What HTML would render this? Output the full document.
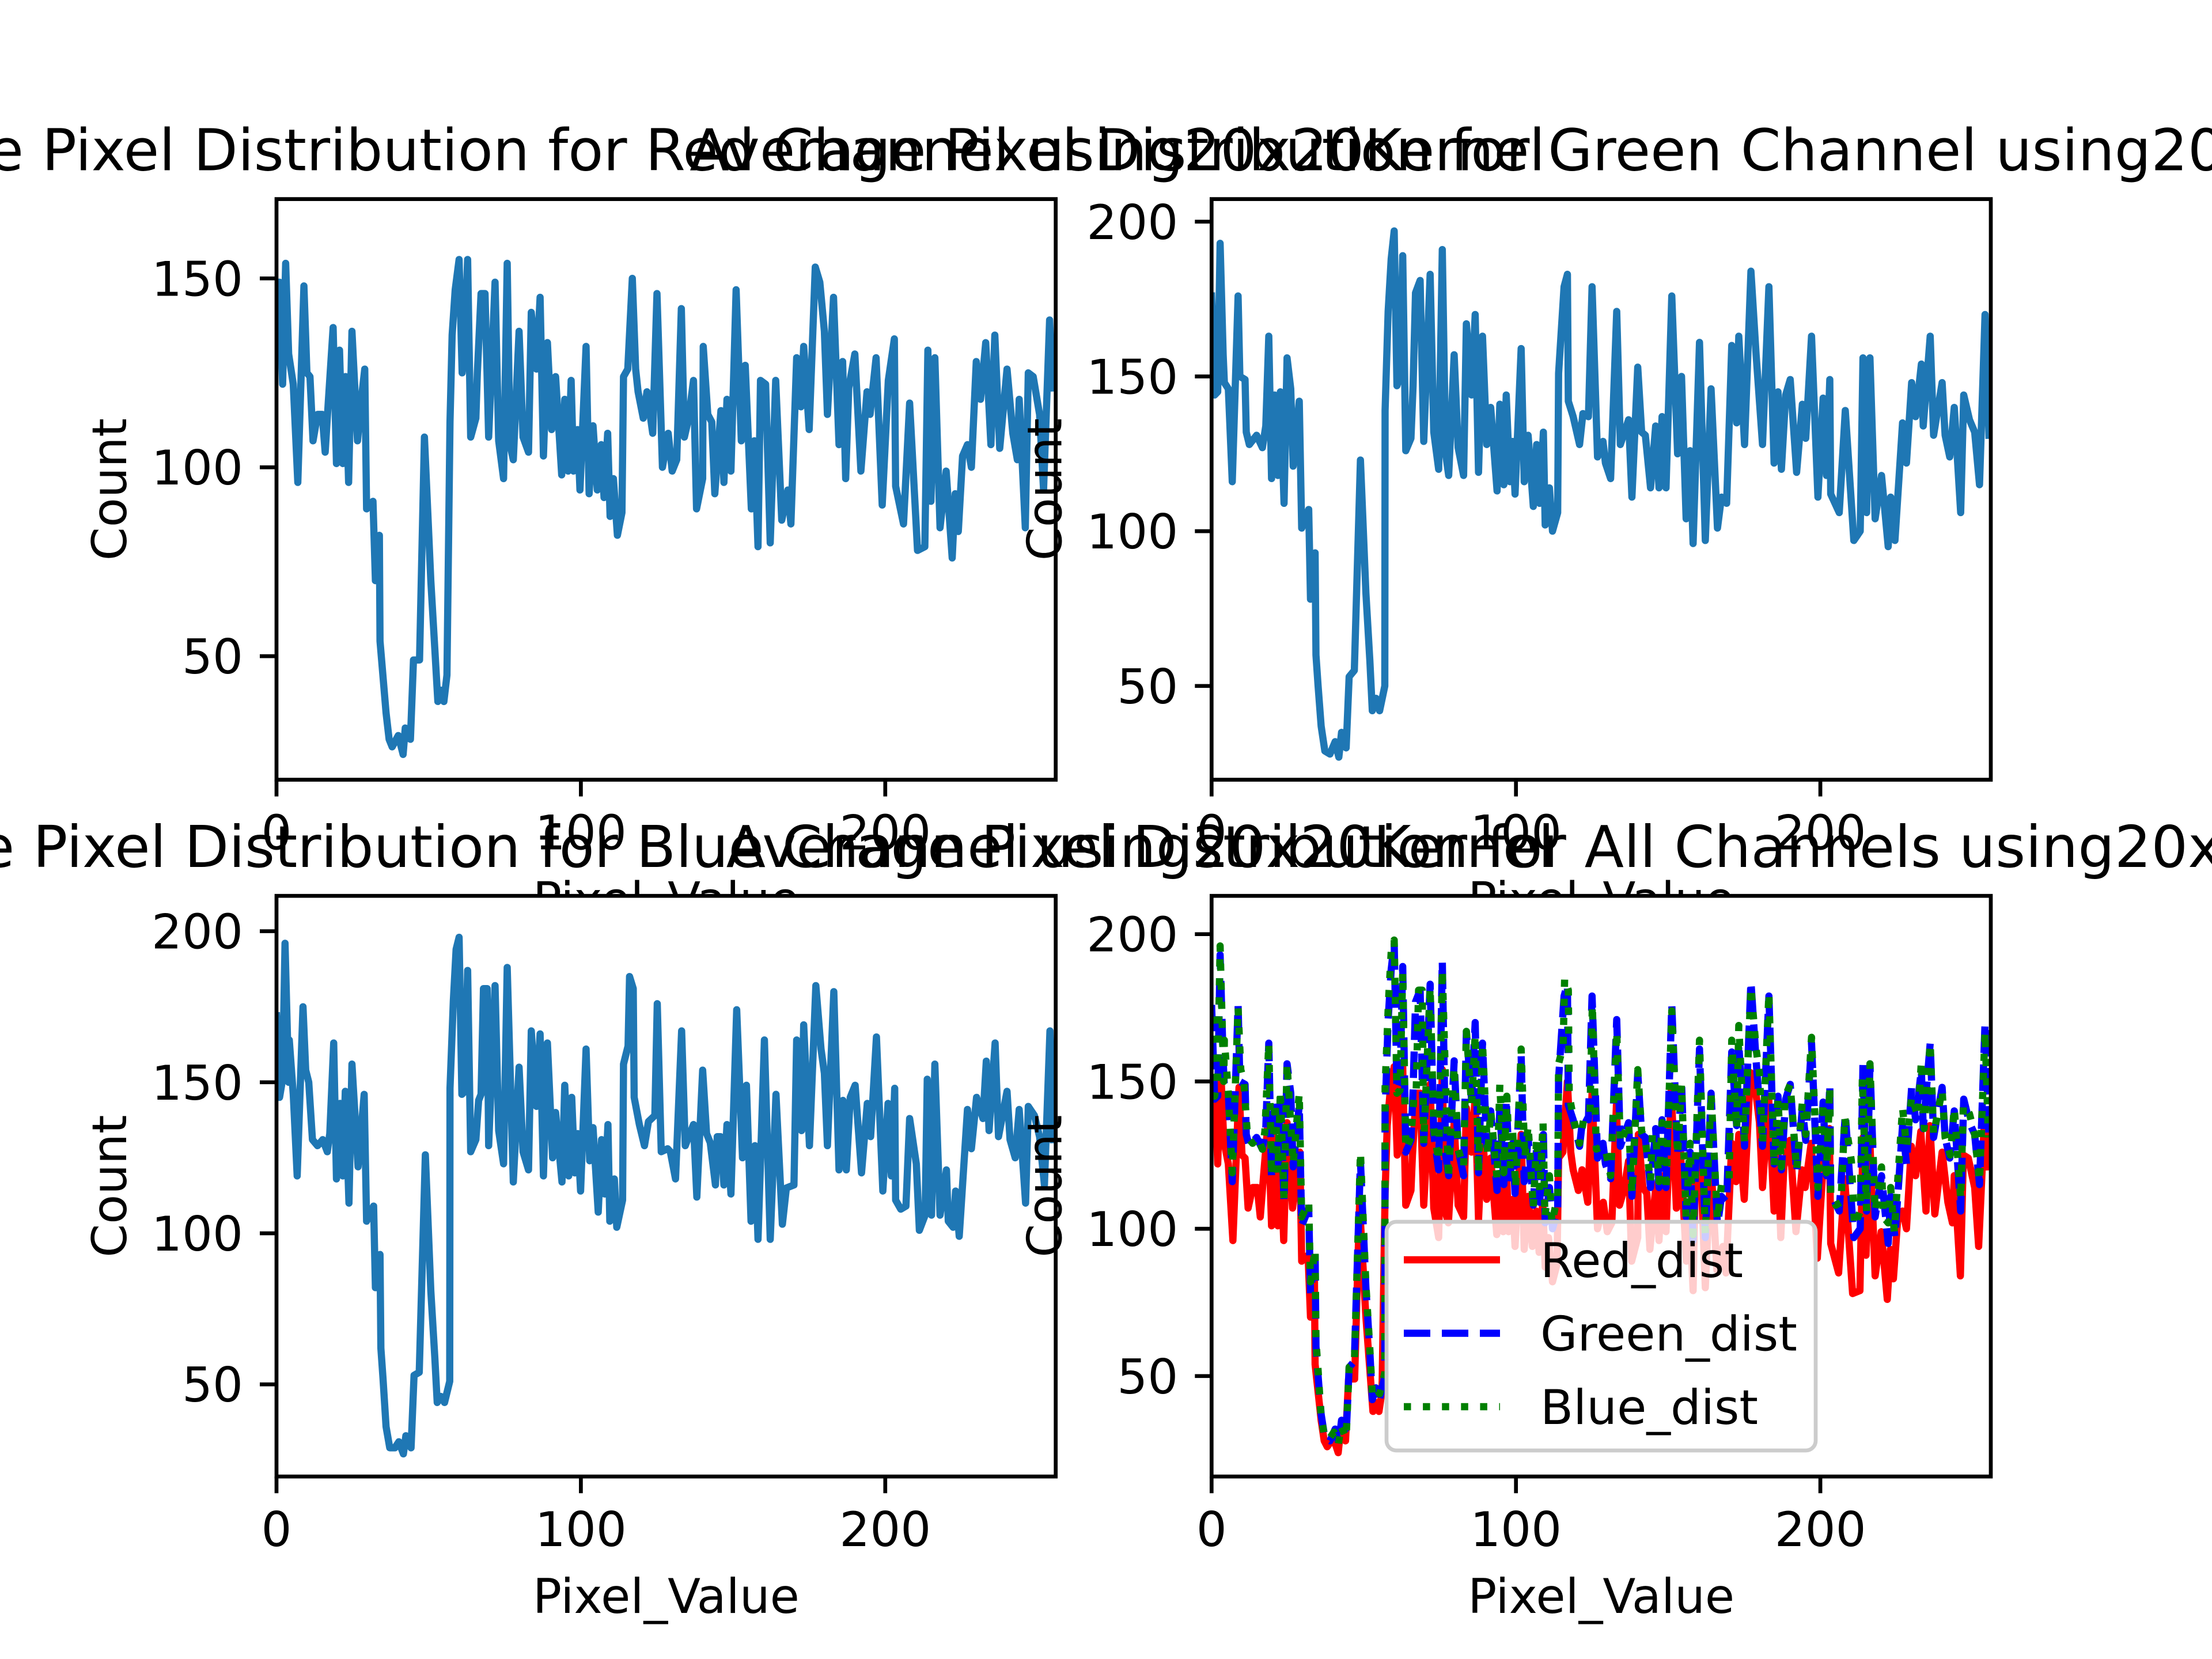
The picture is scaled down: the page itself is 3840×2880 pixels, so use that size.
<!DOCTYPE html>
<html><head><meta charset="utf-8"><style>
html,body{margin:0;padding:0;background:#fff}
svg{display:block;font-family:"DejaVu Sans","Liberation Sans",sans-serif}
</style></head><body>
<svg id="fig" width="3840" height="2880" viewBox="0 0 3840 2880" xmlns="http://www.w3.org/2000/svg">
<rect x="0" y="0" width="3840" height="2880" fill="#fff"/>
<defs>
<clipPath id="c1"><rect x="480" y="345.6" width="1352.7" height="1008"/></clipPath>
<clipPath id="c2"><rect x="2103.3" y="345.6" width="1352.7" height="1008"/></clipPath>
<clipPath id="c3"><rect x="480" y="1555.2" width="1352.7" height="1008"/></clipPath>
<clipPath id="c4"><rect x="2103.3" y="1555.2" width="1352.7" height="1008"/></clipPath>
</defs>
</svg>
<script>
// ---- data ----
const redX = [0,1,2,3,4,5.5,7,9,10,11,12,13.5,15,16,17,18.6,19.7,20.7,21.8,22.7,23.7,24.8,26.6,28,29,29.6,31.7,32.5,33.8,34,36,37,38,40,41.6,42.3,44,45,47,48.6,50.7,52,53,54,55,56,57,57.7,58.7,60,61,61.7,62.8,63.8,65.5,66,67.2,68.5,69.7,71.8,73,74.6,75.8,76.7,77.8,79.7,81,82.8,83.7,85.4,86.6,87.7,89,90.4,91.7,93.7,94.7,95.8,96.8,97.6,98.9,99.7,101.7,102.7,104,105.4,106.7,107.6,108.8,109.6,110.7,112,113.5,114,115.4,116.9,118,118.8,120.5,121.7,123.6,125,126.8,128.7,130,131.5,133,134,135.4,137,138,140,140.2,141.7,143,144,146,147,148,149.3,151,152.7,154,156,157,158.2,159,160.7,162.2,164,166,168,169,170.9,172.3,173.2,175,177,178.5,180,181,183,184.8,186,187,188,190,192,194,195,197,199,201,203,203.4,206,208,210.6,213,214,215,216.3,218,220,222,223,224,225.4,227,228.3,229.9,231.3,233,234.7,236,237.6,240,241.9,243.4,244,246,247,248.6,250.7,252,254,255];
const redY = [149,149,122,154,130,122,96,148,125,124,107,114,114,104,117,137,101,131,101,124,96,136,107,119,126,89,91,70,82,54,35,28,26,29,24,31,28,49,49,108,70,52,38,41,38,45,112,135,147,155,125,131,155,108,113,125,146,146,108,149,107,97,154,106,102,136,108,104,141,126,145,103,133,110,124,98,118,99,123,99,110,94,132,93,111,94,106,92,109,87,97,82,88,124,126,150,126,120,113,120,109,146,100,109,99,102,142,108,113,123,89,97,132,114,112,93,115,96,118,99,147,107,127,89,107,79,123,122,80,123,86,94,85,129,116,132,110,153,149,136,114,145,106,128,97,121,130,99,120,114,129,90,123,134,95,85,117,78,79,131,91,129,84,99,76,93,83,103,106,100,128,118,133,106,135,105,126,109,102,118,84,125,124,114,94,139,121];
const greenX = [0,1,2,2.8,3.8,4.2,5.5,6.8,8.7,9.3,11,11.4,12.4,14.8,16.7,17.8,18.8,19.7,20.7,21.8,22.6,23.8,24.8,26,26.8,28.8,29.6,31.9,32.5,34,34.3,35,36,37.2,38.9,40.6,41.8,42.7,44.2,45.2,46.9,48.9,50.7,52,52.8,54,55.2,56.9,57,58,59,60,60.9,61.9,62.8,63.8,65.5,66.2,67,68.5,69.7,71.8,73,74.6,75.8,76.9,77.9,79.7,81,82.8,83.7,85.4,86.6,87.7,89,90.4,91.7,93.8,94.7,96,96.8,98,98.9,99.7,101.7,102.7,104,105.7,106.8,107.8,109,109.6,111,112,113.7,114,115.8,116.9,117.2,118.8,120.9,122,123.8,125,126.8,128.6,129.4,131.1,133.1,134.3,137,138.1,140,141.3,142.5,144.2,145.9,147,148,149.3,151.2,153.1,154.4,155.9,157.2,158.2,160.3,162.2,164.1,166.2,167.5,169.2,170.9,172.5,173.2,175.1,177.2,178.9,181,183.1,184.8,186.1,187.2,188.6,190.1,192.2,194.1,195.2,197.1,199.2,200.9,202,203.1,203.4,206.2,208.2,211,213.1,214,215.2,216.3,218,220.1,222.3,223.1,224.5,227,228.3,230,231.3,233.2,233.8,236.1,237.2,240,241,242.5,244,246.1,247.1,249,250.7,252.3,254.1,255.4];
const greenY = [176,144,145,193,157,148,146,116,176,150,149,132,128,131,127,134,163,117,144,118,145,109,156,146,121,142,101,107,78,93,60,50,37,29,28,32,27,35,30,53,55,123,80,58,42,46,42,50,139,171,188,197,147,150,189,126,130,147,177,181,129,183,132,120,191,125,118,157,127,118,167,144,170,119,163,128,140,113,141,115,144,116,129,112,159,116,131,108,128,109,132,102,114,100,106,151,179,183,142,137,128,138,137,179,124,129,122,117,171,128,136,111,153,132,131,114,134,114,137,114,176,125,150,104,126,96,161,97,146,101,111,109,160,135,163,128,184,157,128,179,122,145,120,144,149,119,141,130,163,111,143,118,149,112,106,139,97,100,156,106,156,104,118,95,111,97,135,122,148,137,154,134,163,131,148,131,124,140,106,144,136,132,115,170,131];
const blueX = [0,1,2,2.8,4,4.2,5.5,6.8,8.7,9.6,10.6,11.8,13.5,15.2,16.7,17.5,18.8,19.7,20.9,21.8,22.6,23.8,24.8,26.8,28.8,29.6,31.9,32.5,34,34.3,35,36,37.2,38.9,40.2,41.7,42.5,44.2,45.2,46.9,48.9,50.7,52,52.8,54,55.2,56.9,57,58.1,59,60,60.9,61.9,62.8,63.8,65.5,66.4,67.2,68,69.2,69.7,71.8,73,74.6,75.8,77.8,79.7,81,82.8,83.7,85.4,86.6,87.7,89,90.7,91.7,93.8,94.7,96,97,98,98.9,99.9,101.7,102.9,104,105.7,106.8,107.8,108.9,109.5,111,111.8,113.7,114,115.5,116,117.2,117.5,119.2,120.9,122.2,124.3,125.1,126.4,128.5,129.4,131.1,133.1,134.3,137,138.1,140,141.3,142.5,144.2,144.8,145.9,147,148,149.3,151.2,153.1,154.4,155.9,157.2,158.2,160.3,162.2,164.1,166.2,167.5,170,170.9,172.5,173.2,175.1,177.2,178.9,180,181,183.1,184.8,186.1,187.2,188.5,190.1,192.2,194.1,195.2,197.1,199.2,200.9,202,203.1,203.4,205.1,206.8,208,210.2,211.2,213.1,213.8,215.2,216.3,218,220.1,220.7,222.3,223.1,224.3,227,228.3,230,232.1,233.2,234.1,236.1,237.2,240,241,242.7,244,246.1,247,249,250.7,252.3,254.1,255.2];
const blueY = [172,145,151,196,150,164,146,119,175,154,150,131,129,131,127,133,163,118,143,119,147,110,156,122,146,104,109,82,93,62,52,36,29,29,31,27,33,29,53,54,126,81,59,44,46,44,51,148,177,194,198,146,147,187,127,131,144,146,181,181,129,182,134,123,188,117,155,127,121,167,142,166,119,163,125,140,117,149,119,145,120,133,114,161,124,135,107,131,113,136,104,118,102,111,156,162,185,181,145,136,129,137,139,176,127,128,127,118,167,129,136,112,154,133,130,116,132,132,116,136,113,174,125,149,104,129,98,164,98,146,103,115,116,164,134,169,129,182,161,153,129,180,121,144,121,145,149,120,143,132,165,114,143,119,148,111,108,109,138,123,101,106,151,106,156,106,121,104,102,114,99,141,128,145,138,157,134,163,132,147,131,125,141,110,142,139,132,116,167,131];
const xTicks = [0,100,200];
const yTicksTop = [50,100,150];
const yTicks200 = [50,100,150,200];
const legendLabels = ["Red_dist","Green_dist","Blue_dist"];
const titles = [
 "Average Pixel Distribution for Red Channel using20x20Kernel",
 "Average Pixel Distribution for Green Channel using20x20Kernel",
 "Average Pixel Distribution for Blue Channel using20x20Kernel",
 "Average Pixel Distribution for All Channels using20x20Kernel"];

const NS = "http://www.w3.org/2000/svg";
const svg = document.getElementById('fig');
const AW = 1352.7, AH = 1008, FS = 83.3;
function mk(tag, attrs, parent){
  const e = document.createElementNS(NS, tag);
  for (const k in attrs) e.setAttribute(k, attrs[k]);
  (parent || svg).appendChild(e);
  return e;
}
function drawAxes(idx, left, top, ymin, ymax, yticks, series){
  const xmin = 0, xmax = 256;
  const sx = v => left + (v - xmin) / (xmax - xmin) * AW;
  const sy = v => top + AH - (v - ymin) / (ymax - ymin) * AH;
  const g = mk('g', {});
  
  
  const bg = mk('rect', {x:left, y:top, width:AW, height:AH, fill:'#fff'}, g);
  
  
  const lg = mk('g', {'clip-path':'url(#c'+(idx+1)+')'}, g);
  series.forEach(s => {
    let d = '';
    s.xs.forEach((xv, i) => { d += (i ? 'L' : 'M') + sx(xv).toFixed(1) + ' ' + sy(s.ys[i]).toFixed(1); });
    const p = mk('path', {d:d, fill:'none', stroke:s.color, 'stroke-width':12.5, 'stroke-linejoin':'round', 'stroke-linecap': s.dash ? 'butt' : 'square'}, lg);
    if (s.dash) p.setAttribute('stroke-dasharray', s.dash);
    
    
  });
  const sp = mk('rect', {x:left, y:top, width:AW, height:AH, fill:'none', stroke:'#000', 'stroke-width':6.7}, g);
  
  
  xTicks.forEach(t => {
    const x = sx(t);
    const tl = mk('line', {x1:x, x2:x, y1:top+AH, y2:top+AH+29, stroke:'#000', 'stroke-width':6.7}, g);
    
    
    const tx = mk('text', {x:x, y:top+AH+121, 'font-size':FS, 'text-anchor':'middle'}, g);
    tx.textContent = t;
    
    
  });
  yticks.forEach(t => {
    const y = sy(t);
    const tl = mk('line', {x1:left-29, x2:left, y1:y, y2:y, stroke:'#000', 'stroke-width':6.7}, g);
    
    
    const tx = mk('text', {x:left-58, y:y+30, 'font-size':FS, 'text-anchor':'end'}, g);
    tx.textContent = t;
    
    
  });
  const xl = mk('text', {x:left+AW/2, y:top+AH+237, 'font-size':FS, 'text-anchor':'middle'}, g);
  xl.textContent = 'Pixel_Value';
  
  
  const yx = left - 291 + 30, yy = top + AH/2;
  const yl = mk('text', {x:yx, y:yy, 'font-size':FS, 'text-anchor':'middle', transform:'rotate(-90 '+yx+' '+yy+')'}, g);
  yl.textContent = 'Count';
  
  
  const tt = mk('text', {x:left+AW/2, y:top-50, 'font-size':100, 'text-anchor':'middle'}, g);
  tt.textContent = titles[idx];
  
  
  return {g:g, sx:sx, sy:sy};
}
const BLUE = '#1f77b4';
drawAxes(0, 480, 345.6, 17.3, 171, yTicksTop, [{xs:redX, ys:redY, color:BLUE, name:'red-channel-line'}]);
drawAxes(1, 2103.3, 345.6, 19.7, 207.3, yTicks200, [{xs:greenX, ys:greenY, color:BLUE, name:'green-channel-line'}]);
drawAxes(2, 480, 1555.2, 19.5, 211.7, yTicks200, [{xs:blueX, ys:blueY, color:BLUE, name:'blue-channel-line'}]);
const ax4 = drawAxes(3, 2103.3, 1555.2, 15.9, 213, yTicks200, [
  {xs:redX, ys:redY, color:'#ff0000', name:'red-dist-line'},
  {xs:greenX, ys:greenY, color:'#0000ff', dash:'46 20', name:'green-dist-line'},
  {xs:blueX, ys:blueY, color:'#008000', dash:'12.5 20.6', name:'blue-dist-line'}]);
// legend
const lgd = mk('g', {}, ax4.g);


mk('rect', {x:2407, y:2121, width:745, height:397, rx:17, fill:'#fff', 'fill-opacity':0.8, stroke:'#cccccc', 'stroke-width':6.7}, lgd);
const lcols = ['#ff0000','#0000ff','#008000'];
const ldash = [null,'46 20','12.5 20.6'];
legendLabels.forEach((lab, i) => {
  const y = 2187 + i*127.5;
  const ln = mk('line', {x1:2437, x2:2604, y1:y, y2:y, stroke:lcols[i], 'stroke-width':12.5}, lgd);
  if (ldash[i]) ln.setAttribute('stroke-dasharray', ldash[i]);
  
  
  const tx = mk('text', {x:2674, y:y+30, 'font-size':FS}, lgd);
  tx.textContent = lab;
  
  
});
</script>
</body></html>
